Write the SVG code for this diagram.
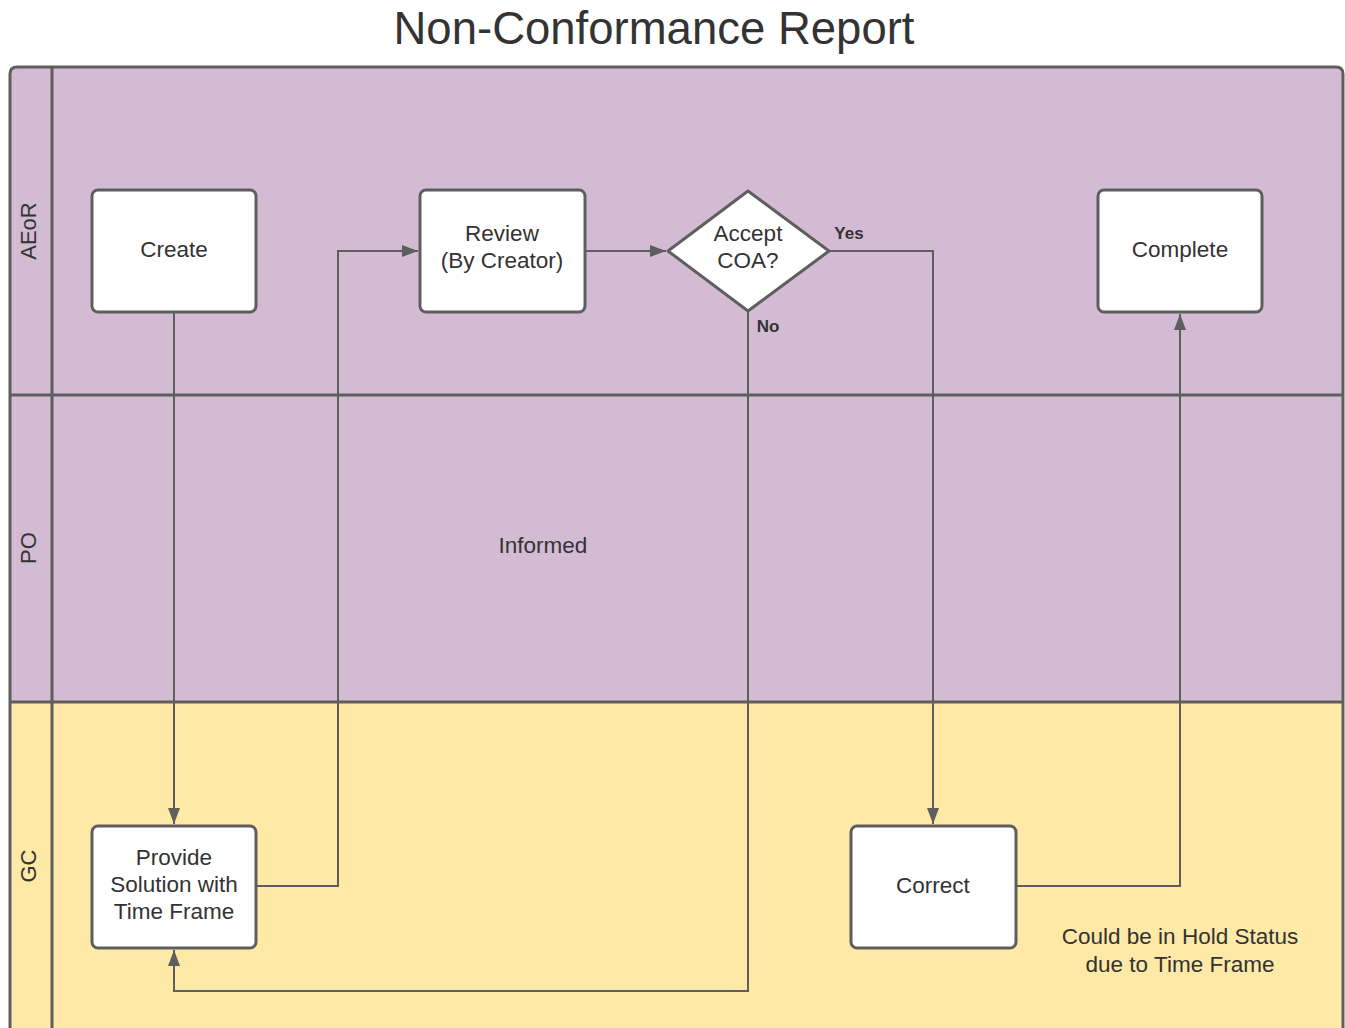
<svg xmlns="http://www.w3.org/2000/svg" width="1345" height="1028" viewBox="0 0 1345 1028">
<defs>
<style>
.t{font-family:"Liberation Sans",Arial,sans-serif;fill:#333;text-anchor:middle}
.n{font-size:22.5px}
.lab{font-size:17px;font-weight:bold}
.box{fill:#fff;stroke:#5e5e5e;stroke-width:3}
.c{fill:none;stroke:#5e5e5e;stroke-width:2}
.ln{stroke:#5e5e5e;stroke-width:3;fill:none}
</style>
<marker id="a" viewBox="0 0 16 12" refX="16" refY="6" markerWidth="16" markerHeight="12" orient="auto" markerUnits="userSpaceOnUse">
<path d="M0,0 L16,6 L0,12 Z" fill="#5e5e5e"/>
</marker>
</defs>
<rect width="1345" height="1028" fill="#fff"/>
<text class="t" x="654" y="44" font-size="45.5">Non-Conformance Report</text>
<g id="pool">
<path d="M10,395 L10,74 Q10,67 17,67 L1336,67 Q1343,67 1343,74 L1343,395 Z" fill="#d3bbd3"/>
<rect x="10" y="395" width="1333" height="307" fill="#d3bbd3"/>
<rect x="10" y="702" width="1333" height="340" fill="#fee9a6"/>
<path class="ln" d="M10,1040 L10,74 Q10,67 17,67 L1336,67 Q1343,67 1343,74 L1343,1040"/>
<line class="ln" x1="52" y1="67" x2="52" y2="1040"/>
<line class="ln" x1="10" y1="395" x2="1343" y2="395"/>
<line class="ln" x1="10" y1="702" x2="1343" y2="702"/>
</g>
<g id="lane-AEoR"><text class="t" font-size="22" transform="translate(36,231) rotate(-90)">AEoR</text></g>
<g id="lane-PO"><text class="t" font-size="22" transform="translate(36,548) rotate(-90)">PO</text></g>
<g id="lane-GC"><text class="t" font-size="22" transform="translate(36,866) rotate(-90)">GC</text></g>
<g id="connectors">
<path class="c" d="M174,313 L174,824" marker-end="url(#a)"/>
<path class="c" d="M257,886 L338,886 L338,251 L418,251" marker-end="url(#a)"/>
<path class="c" d="M586,251 L666,251" marker-end="url(#a)"/>
<path class="c" d="M830,251 L933,251 L933,824" marker-end="url(#a)"/>
<path class="c" d="M748,312 L748,991 L174,991 L174,950" marker-end="url(#a)"/>
<path class="c" d="M1017,886 L1180,886 L1180,314" marker-end="url(#a)"/>
<text class="t lab" x="849" y="239">Yes</text>
<text class="t lab" x="768" y="332">No</text>
</g>
<g id="create"><rect class="box" x="92" y="190" width="164" height="122" rx="6"/><text class="t n" x="174" y="257">Create</text></g>
<g id="review"><rect class="box" x="420" y="190" width="165" height="122" rx="6"/><text class="t n" x="502" y="241">Review</text><text class="t n" x="502" y="268">(By Creator)</text></g>
<g id="accept"><path class="box" d="M748,191 L829,251 L748,311 L668,251 Z" stroke-linejoin="round"/><text class="t n" x="748" y="241">Accept</text><text class="t n" x="748" y="268">COA?</text></g>
<g id="complete"><rect class="box" x="1098" y="190" width="164" height="122" rx="6"/><text class="t n" x="1180" y="257">Complete</text></g>
<g id="informed"><text class="t n" x="543" y="553">Informed</text></g>
<g id="provide"><rect class="box" x="92" y="826" width="164" height="122" rx="6"/><text class="t n" x="174" y="865">Provide</text><text class="t n" x="174" y="892">Solution with</text><text class="t n" x="174" y="919">Time Frame</text></g>
<g id="correct"><rect class="box" x="851" y="826" width="165" height="122" rx="6"/><text class="t n" x="933" y="893">Correct</text></g>
<g id="note"><text class="t n" x="1180" y="944">Could be in Hold Status</text><text class="t n" x="1180" y="972">due to Time Frame</text></g>
</svg>
